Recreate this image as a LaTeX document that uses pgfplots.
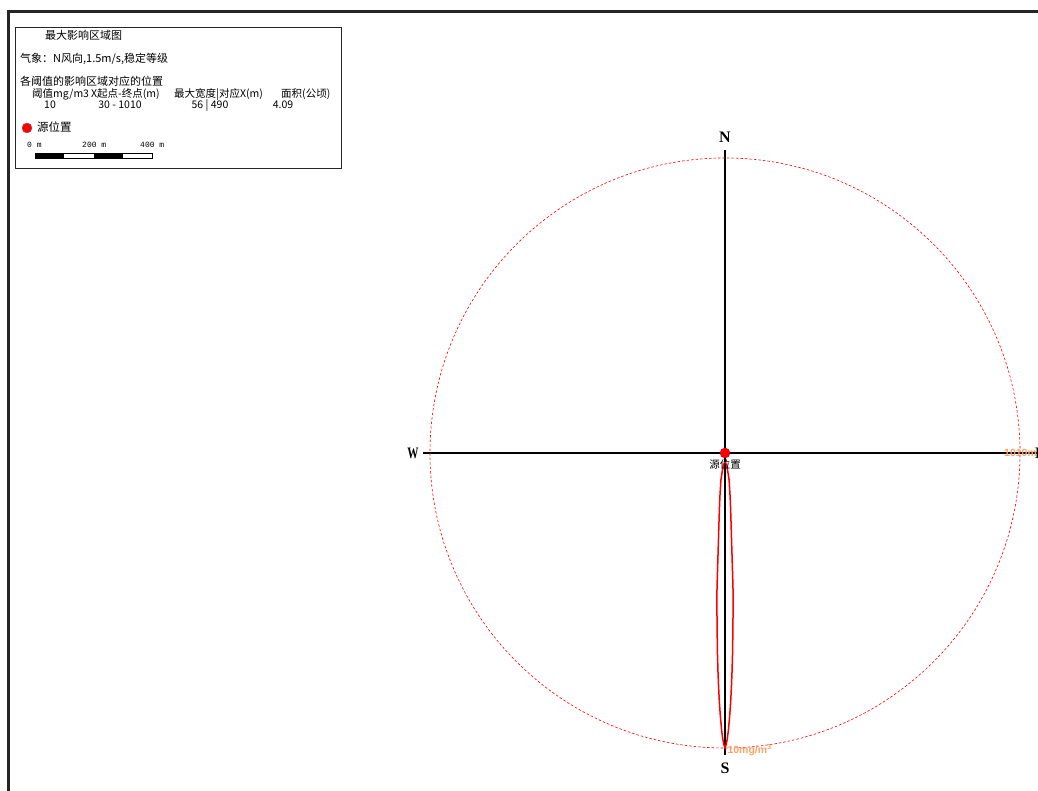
\documentclass[border=0pt]{standalone}
\usepackage{fontspec}
\usepackage{pgfplots}
\pgfplotsset{compat=1.18}
\setmainfont{Noto Sans CJK SC}
\newfontfamily\serifb{Liberation Serif}
\newfontfamily\mono{Liberation Mono}
\newfontfamily\lsans{Liberation Sans}
\definecolor{lblorange}{HTML}{F7A46A}
\begin{document}
\begin{tikzpicture}[x=1pt,y=1pt]
\fill[white] (0,0) rectangle (1038,791);
\useasboundingbox (0,0) rectangle (1038,791);
% outer frame
\draw[line width=2.2pt,black!85] (8.5,-5) -- (8.5,779.5) -- (1045,779.5);
% legend box
\draw[line width=0.9pt,black!85] (15,764) rectangle (341,623);
\begin{scope}[every node/.style={inner sep=0pt,anchor=base west}]
\node[font=\fontsize{11}{13}\selectfont] at (45,751) {最大影响区域图};
\node[font=\fontsize{11}{13}\selectfont] at (20,728) {气象：N风向,1.5m/s,稳定等级};
\node[font=\fontsize{11}{13}\selectfont] at (20,705) {各阈值的影响区域对应的位置};
\node[font=\fontsize{10.5}{12}\selectfont] at (32,693) {阈值mg/m3};
\node[font=\fontsize{10.5}{12}\selectfont] at (91,693) {X起点-终点(m)};
\node[font=\fontsize{10.5}{12}\selectfont] at (174,693) {最大宽度|对应X(m)};
\node[font=\fontsize{10.5}{12}\selectfont] at (281,693) {面积(公顷)};
\node[font=\fontsize{10.5}{12}\selectfont,anchor=base] at (50,682) {10};
\node[font=\fontsize{10.5}{12}\selectfont,anchor=base] at (120,682) {30 - 1010};
\node[font=\fontsize{10.5}{12}\selectfont,anchor=base] at (210,682) {56 | 490};
\node[font=\fontsize{10.5}{12}\selectfont,anchor=base] at (283,682) {4.09};
\node[font=\fontsize{11.5}{13}\selectfont] at (37,659) {源位置};
\node[font=\mono\fontsize{8}{9}\selectfont] at (27,643) {0 m};
\node[font=\mono\fontsize{8}{9}\selectfont] at (82,643) {200 m};
\node[font=\mono\fontsize{8}{9}\selectfont] at (140,643) {400 m};
\end{scope}
\fill[red] (27,663) circle (5);
\draw[black!60,line width=0.4pt] (27,663) circle (5);
% scale bar
\draw[line width=0.8pt,fill=white] (35,633) rectangle (152,638);
\fill[black] (35,633) rectangle (64,638);
\fill[black] (94,633) rectangle (123,638);

\begin{axis}[at={(725pt,338pt)}, anchor=origin,
  x=0.2921pt, y=0.2921pt,
  xmin=-1100, xmax=1100, ymin=-1100, ymax=1100,
  hide axis, clip=false]
% compass axes
\addplot[black, line width=1.6pt] coordinates {(-1034,0) (1070,0)};
\addplot[black, line width=1.6pt] coordinates {(0,1037) (0,-1034)};
% 1010 m circle
\draw[red, line width=0.6pt, dash pattern=on 2.5pt off 2pt] (axis cs:0,0) circle [radius=1010];
% plume contour 10 mg/m3
\addplot[red, line width=1.5pt] coordinates {
(0,-30) (5,-40) (9,-60) (14,-92) (17.5,-150) (19.5,-200) (22.5,-300) (25.5,-400)
(27,-450) (28,-490) (27.5,-550) (27,-600) (26,-680) (24,-750) (22,-800) (19.5,-850)
(16,-900) (11.5,-950) (7.5,-980) (3.5,-1000) (0,-1010)
(-3.5,-1000) (-7.5,-980) (-11.5,-950) (-16,-900) (-19.5,-850) (-22,-800) (-24,-750)
(-26,-680) (-27,-600) (-27.5,-550) (-28,-490) (-27,-450) (-25.5,-400) (-22.5,-300)
(-19.5,-200) (-17.5,-150) (-14,-92) (-9,-60) (-5,-40) (0,-30)};
% source
\addplot[only marks, mark=*, mark size=5pt, red, mark options={draw=red!80!black}] coordinates {(0,0)};
\node[font=\fontsize{10.5}{12}\selectfont, inner sep=0pt] at (axis cs:0,-41) {源位置};
% labels
\node[font=\serifb\bfseries\fontsize{16}{18}\selectfont, inner sep=0pt] at (axis cs:0,1080) {N};
\node[font=\serifb\bfseries\fontsize{16}{18}\selectfont, inner sep=0pt] at (axis cs:0,-1080) {S};
\node[font=\serifb\bfseries\fontsize{16}{18}\selectfont, inner sep=0pt, xscale=0.7] at (axis cs:-1068,0) {W};
\node[font=\serifb\bfseries\fontsize{16}{18}\selectfont, inner sep=0pt] at (axis cs:1080,0) {E};
\node[font=\lsans\bfseries\fontsize{10.5}{12}\selectfont, text=lblorange, inner sep=0pt, anchor=west] at (axis cs:955,0) {1010m};
\node[font=\lsans\bfseries\fontsize{10.5}{12}\selectfont, text=lblorange, inner sep=0pt, anchor=west] at (axis cs:8,-1016) {10mg/m\textsuperscript{3}};
\end{axis}
\end{tikzpicture}
\end{document}
